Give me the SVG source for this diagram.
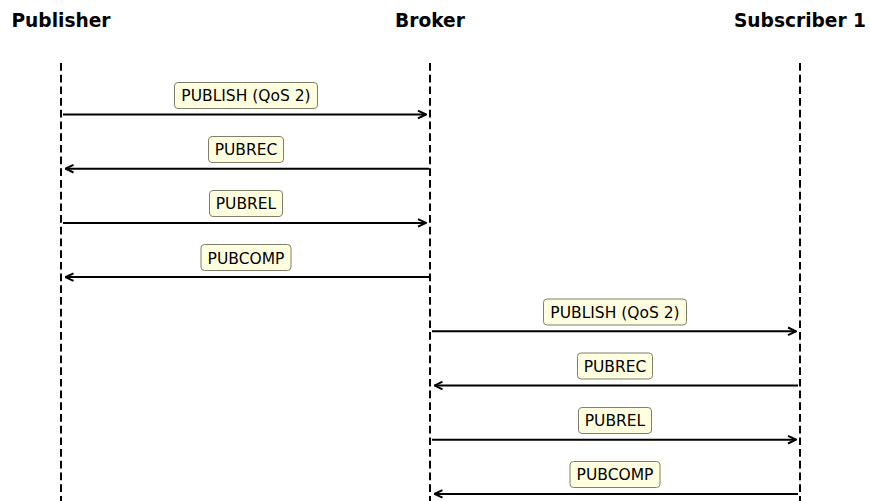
<svg xmlns="http://www.w3.org/2000/svg" width="870" height="501" viewBox="0 0 870 501">
<style>
.title{font-family:"DejaVu Sans",sans-serif;font-weight:bold;font-size:18.6px;text-anchor:middle;fill:#000}
.life{stroke:#000;stroke-width:2;stroke-dasharray:7.7 4;fill:none}
.msg{stroke:#000;stroke-width:2;fill:none}
.box{fill:#ffffe0;stroke:#7f7f6a;stroke-width:1}
.lbl{font-family:"DejaVu Sans",sans-serif;font-size:15.5px;text-anchor:middle;fill:#000}
</style>
<defs>
<marker id="ah" viewBox="0 0 10 10" refX="9" refY="5" markerWidth="10" markerHeight="10" markerUnits="userSpaceOnUse" orient="auto">
<path d="M1,1.2 L9,5 L1,8.8" fill="none" stroke="#000" stroke-width="2"/>
</marker>
</defs>
<g id="publisher"><text class="title" x="61" y="27">Publisher</text><line class="life" x1="61" y1="63" x2="61" y2="501"/></g>
<g id="broker"><text class="title" x="430" y="27">Broker</text><line class="life" x1="430" y1="63" x2="430" y2="501"/></g>
<g id="subscriber1"><text class="title" x="800" y="27">Subscriber 1</text><line class="life" x1="800" y1="63" x2="800" y2="501"/></g>
<g id="connectors">
<line class="msg" x1="63" y1="114.5" x2="426" y2="114.5" marker-end="url(#ah)"/>
<line class="msg" x1="429" y1="168.7" x2="65.5" y2="168.7" marker-end="url(#ah)"/>
<line class="msg" x1="63" y1="222.9" x2="426" y2="222.9" marker-end="url(#ah)"/>
<line class="msg" x1="429" y1="277.1" x2="65.5" y2="277.1" marker-end="url(#ah)"/>
<line class="msg" x1="432" y1="331.3" x2="796" y2="331.3" marker-end="url(#ah)"/>
<line class="msg" x1="798" y1="385.5" x2="434.5" y2="385.5" marker-end="url(#ah)"/>
<line class="msg" x1="432" y1="439.7" x2="796" y2="439.7" marker-end="url(#ah)"/>
<line class="msg" x1="798" y1="493.9" x2="434.5" y2="493.9" marker-end="url(#ah)"/>
</g>
<g id="lbl1"><rect class="box" x="174.5" y="82.5" width="143" height="26" rx="3.5"/><text class="lbl" x="246" y="101">PUBLISH (QoS 2)</text></g>
<g id="lbl2"><rect class="box" x="208.5" y="136.5" width="75" height="26" rx="3.5"/><text class="lbl" x="246" y="155">PUBREC</text></g>
<g id="lbl3"><rect class="box" x="209.5" y="190.5" width="73" height="26" rx="3.5"/><text class="lbl" x="246" y="209">PUBREL</text></g>
<g id="lbl4"><rect class="box" x="201" y="244.5" width="90" height="26" rx="3.5"/><text class="lbl" x="246" y="263.5">PUBCOMP</text></g>
<g id="lbl5"><rect class="box" x="543.5" y="299" width="143" height="26" rx="3.5"/><text class="lbl" x="615" y="317.5">PUBLISH (QoS 2)</text></g>
<g id="lbl6"><rect class="box" x="577.5" y="353" width="75" height="26" rx="3.5"/><text class="lbl" x="615" y="371.5">PUBREC</text></g>
<g id="lbl7"><rect class="box" x="578.5" y="407.5" width="73" height="26" rx="3.5"/><text class="lbl" x="615" y="426">PUBREL</text></g>
<g id="lbl8"><rect class="box" x="570" y="461.5" width="90" height="26" rx="3.5"/><text class="lbl" x="615" y="480">PUBCOMP</text></g>
</svg>
